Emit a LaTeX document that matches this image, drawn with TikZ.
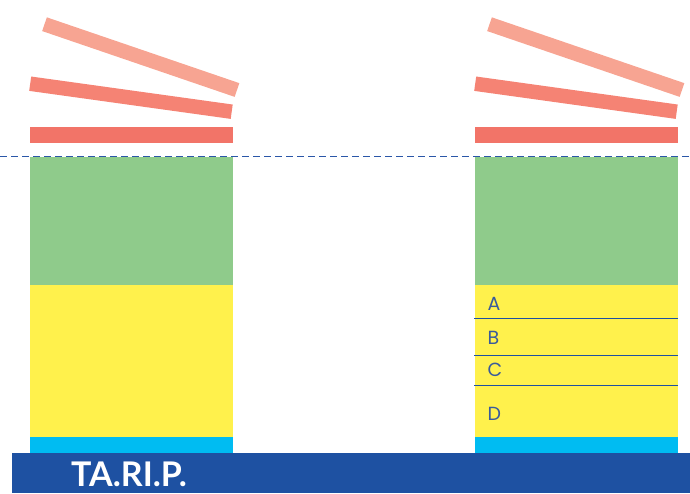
\documentclass[tikz,border=0pt]{standalone}
\usepackage{fontspec}
\setmainfont{Lato}
\newfontfamily\labfont{Poppins}
\definecolor{barA}{HTML}{F7A492}
\definecolor{barB}{HTML}{F58374}
\definecolor{barC}{HTML}{F27468}
\definecolor{greenL}{HTML}{8FCB8B}
\definecolor{yellowL}{HTML}{FFF14C}
\definecolor{cyanL}{HTML}{00BCF2}
\definecolor{navy}{HTML}{1E51A2}
\definecolor{dashc}{HTML}{2A56A8}
\definecolor{labc}{HTML}{3A5B9B}
\tikzset{
  tiltbar/.style={line width=14.5pt, line cap=butt},
  sepline/.style={draw=navy, line width=1pt},
  lab/.style={anchor=base west, inner sep=0pt, text=labc, font=\labfont\fontsize{19}{19}\selectfont},
}
\begin{document}
\begin{tikzpicture}[x=1pt,y=-1pt]
\useasboundingbox (0,0) rectangle (690,493);
\foreach \dx in {0,445}{
  \begin{scope}[xshift=\dx pt]
    \draw[tiltbar, barA] (44.5,24.2) -- (237,90);
    \draw[tiltbar, barB] (30.2,83.7) -- (231.7,111.7);
    \fill[barC] (30,127) rectangle (233,143);
    \fill[greenL] (30,157) rectangle (233,285);
    \fill[yellowL] (30,285) rectangle (233,437);
    \fill[cyanL] (30,437) rectangle (233,453);
  \end{scope}
}
\draw[dashc, line width=1.2pt, dash pattern=on 7pt off 4pt] (0,156.5) -- (690,156.5);
\draw[sepline] (474,318.3) -- (678,318.3);
\draw[sepline] (474,355.7) -- (678,355.7);
\draw[sepline] (474,385) -- (678,385);
\node[lab] (la) at (487.5,310) {A};
\node[lab] (lb) at (487.5,344) {B};
\node[lab] (lc) at (487.5,376.2) {C};
\node[lab] (ld) at (487.5,420) {D};
\fill[navy] (12,453) rectangle (690,493);
\node[anchor=base west, inner sep=0pt, text=white, font=\fontsize{34}{34}\selectfont\bfseries] (title) at (71,486.7) {TA.RI.P.};
\end{tikzpicture}
\end{document}
